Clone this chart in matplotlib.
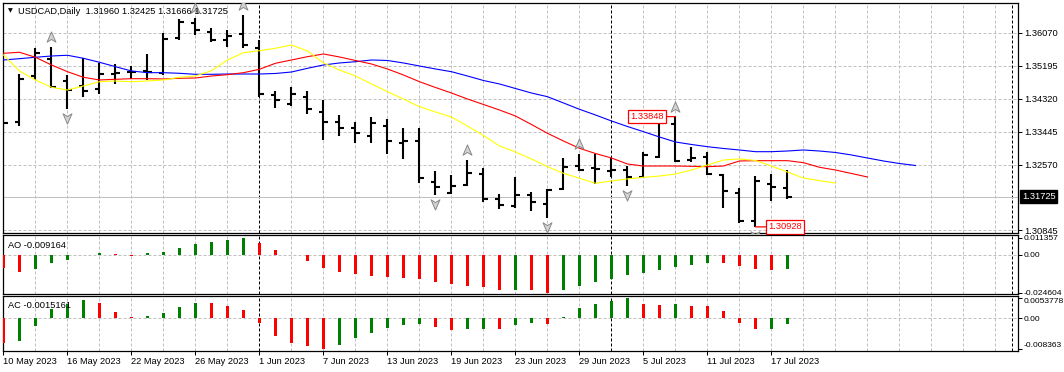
import numpy as np
import pandas as pd
import matplotlib
matplotlib.use("Agg")
import matplotlib.pyplot as plt
from matplotlib.path import Path
from matplotlib.transforms import offset_copy, blended_transform_factory

plt.rcParams['font.family'] = ['Liberation Sans', 'DejaVu Sans']
plt.rcParams['font.size'] = 6.7
plt.rcParams['axes.unicode_minus'] = False

# ---------------- data ----------------
symbol = "USDCAD,Daily"
dates = pd.bdate_range("2023-05-10", "2023-07-18")

open_ = [1.33811, 1.33705, 1.34923, 1.35382, 1.34791, 1.34659, 1.34571, 1.34976, 1.35037, 1.35064,
         1.35011, 1.35922, 1.36319, 1.36097, 1.35877, 1.36036, 1.35673, 1.34420, 1.34182, 1.34375,
         1.33962, 1.33697, 1.33539, 1.33343, 1.33607, 1.33141, 1.33210, 1.32125, 1.31833, 1.32037,
         1.32320, 1.31658, 1.31489, 1.31772, 1.31526, 1.31923, 1.32540, 1.32495, 1.32408, 1.32434,
         1.32241, 1.32787, 1.33644, 1.32699, 1.32787, 1.32302, 1.31833, 1.31092, 1.32056, 1.31960]
high = [1.34156, 1.34976, 1.35657, 1.35699, 1.34950, 1.35392, 1.35276, 1.35233, 1.35188, 1.35506,
        1.36054, 1.36433, 1.36451, 1.36187, 1.36142, 1.36539, 1.35877, 1.34534, 1.34624, 1.34526,
        1.34288, 1.33891, 1.33713, 1.33830, 1.33777, 1.33539, 1.33539, 1.32408, 1.32302, 1.32699,
        1.32479, 1.31799, 1.32241, 1.31844, 1.31923, 1.32760, 1.32850, 1.32858, 1.32744, 1.32540,
        1.32919, 1.33713, 1.33848, 1.33051, 1.32919, 1.32328, 1.31950, 1.32275, 1.32320, 1.32425]
low = [1.33361, 1.33607, 1.34818, 1.34598, 1.34042, 1.34375, 1.34439, 1.34704, 1.34844, 1.34818,
       1.34950, 1.35877, 1.36009, 1.35832, 1.35683, 1.35657, 1.34359, 1.34068, 1.34137, 1.33909,
       1.33229, 1.33343, 1.33141, 1.33141, 1.32850, 1.32718, 1.32082, 1.31772, 1.31791, 1.32011,
       1.31595, 1.31402, 1.31420, 1.31357, 1.31155, 1.31905, 1.32408, 1.32064, 1.32257, 1.32019,
       1.32222, 1.32744, 1.32654, 1.32654, 1.32302, 1.31420, 1.31039, 1.30928, 1.31613, 1.31666]
close = [1.33687, 1.34844, 1.35525, 1.34624, 1.34553, 1.34534, 1.34976, 1.35011, 1.35030, 1.35021,
         1.35903, 1.36361, 1.36142, 1.35877, 1.35991, 1.35744, 1.34447, 1.34288, 1.34439, 1.34042,
         1.33713, 1.33539, 1.33406, 1.33671, 1.33202, 1.33202, 1.32230, 1.31976, 1.32019, 1.32347,
         1.31658, 1.31508, 1.31772, 1.31579, 1.31905, 1.32506, 1.32434, 1.32461, 1.32434, 1.32241,
         1.32832, 1.33671, 1.32673, 1.32744, 1.32320, 1.31878, 1.31092, 1.32151, 1.31992, 1.31725]

# Alligator lines (already shifted forward: jaw 8, teeth 5, lips 3 bars)
jaw = [1.35347, 1.35382, 1.35419, 1.35453, 1.35472, 1.35392, 1.35286, 1.35170, 1.35056, 1.35011,
       1.35011, 1.34995, 1.34968, 1.34968, 1.34976, 1.34976, 1.34976, 1.34990, 1.35029, 1.35127,
       1.35215, 1.35268, 1.35302, 1.35347, 1.35334, 1.35268, 1.35188, 1.35109, 1.35037, 1.34923,
       1.34804, 1.34712, 1.34592, 1.34473, 1.34375, 1.34209, 1.34042, 1.33891, 1.33732, 1.33586,
       1.33449, 1.33308, 1.33176, 1.33110, 1.33051, 1.33004, 1.32964, 1.32919, 1.32919, 1.32937,
       1.32964, 1.32937, 1.32898, 1.32832, 1.32752, 1.32673, 1.32606, 1.32554]
teeth = [1.35525, 1.35551, 1.35419, 1.35215, 1.35037, 1.34889, 1.34818, 1.34836, 1.34852, 1.34852,
         1.34844, 1.34863, 1.34870, 1.34923, 1.34958, 1.35011, 1.35101, 1.35260, 1.35347, 1.35435,
         1.35506, 1.35427, 1.35334, 1.35241, 1.35109, 1.34950, 1.34772, 1.34619, 1.34473, 1.34314,
         1.34169, 1.34023, 1.33864, 1.33639, 1.33406, 1.33202, 1.33009, 1.32871, 1.32752, 1.32593,
         1.32540, 1.32540, 1.32540, 1.32532, 1.32522, 1.32540, 1.32673, 1.32681, 1.32681, 1.32681,
         1.32628, 1.32506, 1.32434, 1.32342, 1.32249]
lips = [1.35480, 1.35056, 1.34818, 1.34624, 1.34553, 1.34659, 1.34772, 1.34791, 1.34772, 1.34791,
        1.34818, 1.34889, 1.34923, 1.35064, 1.35347, 1.35540, 1.35593, 1.35657, 1.35744, 1.35586,
        1.35268, 1.35082, 1.34923, 1.34712, 1.34508, 1.34314, 1.34111, 1.33970, 1.33838, 1.33599,
        1.33348, 1.33070, 1.32911, 1.32726, 1.32522, 1.32347, 1.32215, 1.32082, 1.32143, 1.32196,
        1.32241, 1.32275, 1.32328, 1.32434, 1.32567, 1.32699, 1.32726, 1.32686, 1.32540, 1.32381,
        1.32222, 1.32151, 1.32090]

fractal_up = [3, 12, 15, 29, 36, 42]
fractal_down = [4, 27, 34, 39, 47]
marked_high_bar = 42
marked_low_bar = 47

ao = [-0.00831, -0.01092, -0.00916, -0.00504, -0.00327, 0.00026, 0.00131, 0.00065, -0.00033, 0.00131,
      0.00196, 0.00458, 0.00719, 0.00850, 0.00981, 0.01080, 0.00785, 0.00327, 0.00020, -0.00392,
      -0.00831, -0.01092, -0.01243, -0.01354, -0.01419, -0.01485, -0.01570, -0.01746, -0.01897, -0.02008,
      -0.02073, -0.02309, -0.02276, -0.02302, -0.024604, -0.02289, -0.02008, -0.01746, -0.01570, -0.01308,
      -0.01177, -0.00981, -0.00765, -0.00654, -0.00504, -0.00523, -0.00700, -0.00916, -0.00981, -0.009164]
ac = [-0.00675, -0.00613, -0.00197, 0.00251, 0.00386, 0.00494, 0.00424, 0.00170, 0.00027, 0.00062,
      0.00154, 0.00305, 0.00424, 0.00413, 0.00332, 0.00224, -0.00116, -0.00478, -0.00656, -0.00748,
      -0.008363, -0.00721, -0.00521, -0.00386, -0.00270, -0.00181, -0.00154, -0.00224, -0.00316, -0.00289,
      -0.00278, -0.00297, -0.00181, -0.00127, -0.00154, 0.00027, 0.00278, 0.00386, 0.00467, 0.0053778,
      0.00386, 0.00359, 0.00386, 0.00332, 0.00324, 0.00197, -0.00116, -0.00289, -0.00278, -0.0015161]

price_ticks = [1.36070, 1.35195, 1.34320, 1.33445, 1.32570, 1.30845]
ao_ticks = [0.011357, 0.0, -0.024604]
ao_tick_labels = ["0.011357", "0.00", "-0.024604"]
ac_ticks = [0.0053778, 0.0, -0.008363]
ac_tick_labels = ["0.0053778", "0.00", "-0.008363"]

# ---------------- layout ----------------
W, H = 1064, 372
fig = plt.figure(figsize=(W / 100, H / 100), dpi=100)


def rect(x0, y0, x1, y1):
    return [x0 / W, 1 - y1 / H, (x1 - x0) / W, (y1 - y0) / H]


ax = fig.add_axes(rect(3, 3, 1018, 233))
ax_ao = fig.add_axes(rect(3, 235, 1018, 294))
ax_ac = fig.add_axes(rect(3, 296, 1018, 351))
axes = [ax, ax_ao, ax_ac]

bar_px = 16.0
xlim = (-0.03, -0.03 + 1015 / bar_px)
grid_kw = dict(color='#c0c0c0', lw=0.72, linestyle=(0, (3, 2)), zorder=0)
sep_kw = dict(color='black', lw=0.72, linestyle=(0, (3, 2)), zorder=0.5)

n = len(close)
x = np.arange(n)
month_starts = [i for i in range(1, n) if dates[i].month != dates[i - 1].month]

for a in axes:
    a.set_xlim(*xlim)
    for s in a.spines.values():
        s.set_color('black')
        s.set_linewidth(0.9)
    for gx in range(2, int(xlim[1]) + 1, 2):
        if gx not in month_starts:
            a.axvline(gx, **grid_kw)
    for ms_ in month_starts:
        a.axvline(ms_, **sep_kw)
    a.axvline(xlim[0] + 1009 / bar_px, **sep_kw)
    a.yaxis.tick_right()
    a.tick_params(axis='y', direction='out', length=3, width=0.72, pad=1.5,
                  labelsize=6.7, left=False, right=True, labelleft=False, labelright=True)
    a.tick_params(axis='x', bottom=False, labelbottom=False)
    a.set_facecolor('white')

for a in (ax_ao, ax_ac):
    a.tick_params(axis='y', labelsize=6.1, pad=1.0)

# ---------------- main price panel ----------------
ax.set_ylim(1.30766, 1.36856)
ax.set_yticks(price_ticks)
ax.set_yticklabels([f"{t:.5f}" for t in price_ticks])
for t in price_ticks:
    ax.axhline(t, **grid_kw)
ax.axhline(close[-1], color='#c0c0c0', lw=0.72, zorder=0.6)

tick_w = 0.27
ax.vlines(x, low, high, color='black', lw=1.5, zorder=3)
ax.hlines(open_, x - tick_w, x, color='black', lw=1.5, zorder=3)
ax.hlines(close, x, x + tick_w, color='black', lw=1.5, zorder=3)

ax.plot(np.arange(len(jaw)), jaw, color='#0000ff', lw=0.8, zorder=4)
ax.plot(np.arange(len(teeth)), teeth, color='#ff0000', lw=0.8, zorder=4)
ax.plot(np.arange(len(lips)), lips, color='#ffff00', lw=0.8, zorder=4)

up_path = Path([(0, 1), (0.8, -0.85), (0, -0.35), (-0.8, -0.85), (0, 1)],
               [Path.MOVETO, Path.LINETO, Path.LINETO, Path.LINETO, Path.CLOSEPOLY])
down_path = Path([(0, -1), (0.8, 0.85), (0, 0.35), (-0.8, 0.85), (0, -1)],
                 [Path.MOVETO, Path.LINETO, Path.LINETO, Path.LINETO, Path.CLOSEPOLY])
hi = np.array(high)
lo = np.array(low)
ax.plot(fractal_up, hi[fractal_up], linestyle='none', marker=up_path, ms=8,
        mfc='#d4d4d4', mec='#888888', mew=0.7, zorder=5,
        transform=offset_copy(ax.transData, fig=fig, x=0, y=10, units='dots'))
ax.plot(fractal_down, lo[fractal_down], linestyle='none', marker=down_path, ms=8,
        mfc='#d4d4d4', mec='#888888', mew=0.7, zorder=5,
        transform=offset_copy(ax.transData, fig=fig, x=0, y=-9, units='dots'))

box_kw = dict(boxstyle='square,pad=0.25', fc='white', ec='red', lw=0.9)
ax.annotate(f"{high[marked_high_bar]:.5f}", xy=(marked_high_bar, high[marked_high_bar]),
            xytext=(-12, 0), textcoords='offset pixels', ha='right', va='center',
            color='red', bbox=box_kw, zorder=6,
            arrowprops=dict(arrowstyle='-', color='red', lw=0.9, shrinkA=0, shrinkB=0))
ax.annotate(f"{low[marked_low_bar]:.5f}", xy=(marked_low_bar, low[marked_low_bar]),
            xytext=(13, 0), textcoords='offset pixels', ha='left', va='center',
            color='red', bbox=box_kw, zorder=6,
            arrowprops=dict(arrowstyle='-', color='red', lw=0.9, shrinkA=0, shrinkB=0))

ax.annotate("\u25BC", xy=(0, 1), xycoords='axes fraction', xytext=(5, -8),
            textcoords='offset pixels', ha='left', va='center', fontsize=4.5,
            family=['DejaVu Sans'], zorder=7)
ax.annotate(f"{symbol}  {open_[-1]:.5f} {high[-1]:.5f} {low[-1]:.5f} {close[-1]:.5f}",
            xy=(0, 1), xycoords='axes fraction', xytext=(15, -8),
            textcoords='offset pixels', ha='left', va='center', zorder=7)

ax.annotate(f"{close[-1]:.5f}", xy=(1, close[-1]),
            xycoords=blended_transform_factory(ax.transAxes, ax.transData),
            xytext=(4, 0), textcoords='offset pixels', ha='left', va='center',
            color='white', bbox=dict(boxstyle='square,pad=0.2', fc='black', ec='black'),
            annotation_clip=False, zorder=8)

# ---------------- AO panel ----------------
ao_arr = np.array(ao)
ao_col = ['#ff0000'] + ['#008000' if ao_arr[i] > ao_arr[i - 1] else '#ff0000' for i in range(1, n)]
ax_ao.set_ylim(-0.02551, 0.01308)
ax_ao.axhline(0, **grid_kw)
ax_ao.bar(x, ao_arr, width=0.14, color=ao_col, linewidth=0, zorder=3)
ax_ao.set_yticks(ao_ticks)
ax_ao.set_yticklabels(ao_tick_labels)
ax_ao.annotate(f"AO {ao[-1]:.6f}", xy=(0, 1), xycoords='axes fraction', xytext=(5, -10),
               textcoords='offset pixels', ha='left', va='center', zorder=7)

# ---------------- AC panel ----------------
ac_arr = np.array(ac)
ac_col = ['#ff0000'] + ['#008000' if ac_arr[i] > ac_arr[i - 1] else '#ff0000' for i in range(1, n)]
ax_ac.set_ylim(-0.00883, 0.00602)
ax_ac.axhline(0, **grid_kw)
ax_ac.bar(x, ac_arr, width=0.14, color=ac_col, linewidth=0, zorder=3)
ax_ac.set_yticks(ac_ticks)
ax_ac.set_yticklabels(ac_tick_labels)
ax_ac.get_yticklabels()[0].set_va('top')
ax_ac.get_yticklabels()[-1].set_va('bottom')
ax_ac.annotate(f"AC {ac[-1]:.7f}", xy=(0, 1), xycoords='axes fraction', xytext=(5, -10),
               textcoords='offset pixels', ha='left', va='center', zorder=7)

tick_idx = list(range(0, n, 4))
ax_ac.set_xticks(tick_idx)
ax_ac.set_xticklabels([f"{dates[i].day} {dates[i]:%b %Y}" for i in tick_idx])
ax_ac.tick_params(axis='x', bottom=True, labelbottom=True, direction='out',
                  length=3, width=0.72, pad=1.5, labelsize=6.7)
for lab in ax_ac.get_xticklabels():
    lab.set_ha('left')

fig.savefig("out.png", dpi=100)
